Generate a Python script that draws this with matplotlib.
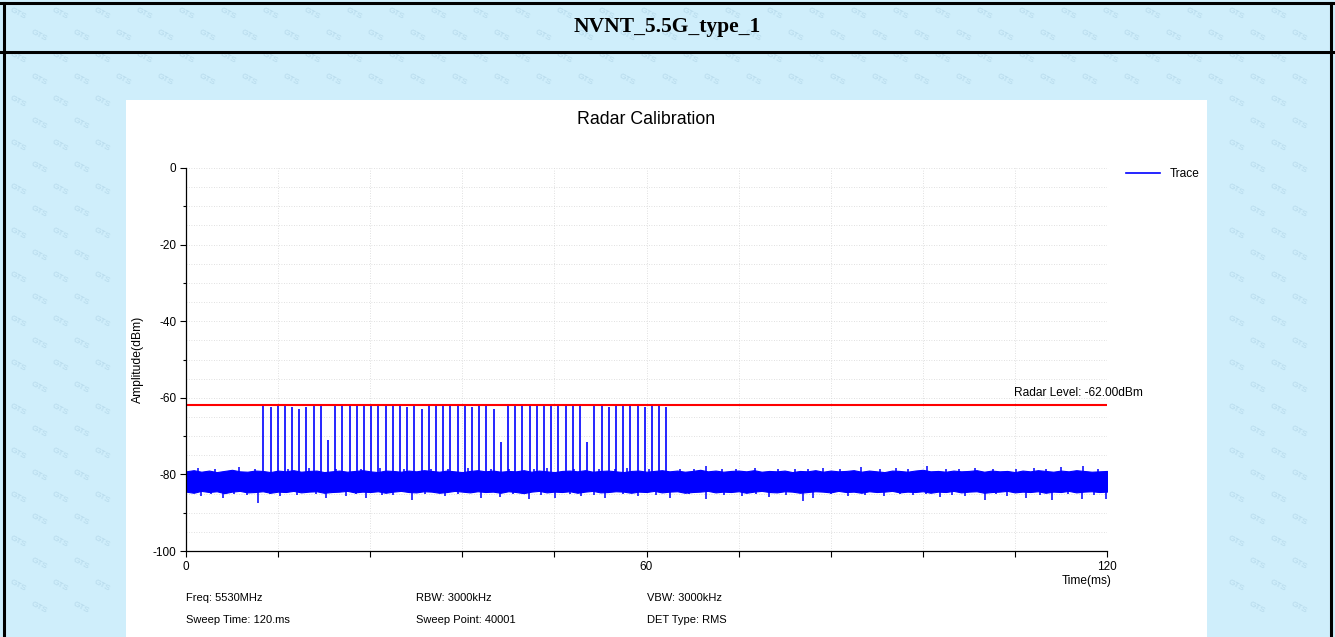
import matplotlib
matplotlib.use("Agg")
import matplotlib.pyplot as plt
from matplotlib.patches import Rectangle
from matplotlib.lines import Line2D

plt.rcParams["axes.unicode_minus"] = False

W, H = 1335, 637

# ---------------- data ----------------
noise_t = list(range(0, 121))
noise_upper = [
    -79.2, -78.9, -79.3, -79.0, -79.4, -79.1, -78.8, -79.2, -79.3, -79.0,
    -79.1, -79.4, -79.0, -79.2, -78.9, -79.3, -79.1, -79.0, -79.4, -79.2,
    -79.0, -79.3, -79.1, -78.9, -79.2, -79.4, -79.0, -79.1, -79.3, -79.0,
    -79.2, -78.9, -79.1, -79.3, -79.0, -79.2, -79.4, -79.1, -78.9, -79.2,
    -79.0, -79.3, -79.1, -79.2, -78.9, -79.3, -79.0, -79.2, -79.4, -79.1,
    -79.0, -79.2, -78.9, -79.3, -79.1, -79.0, -79.2, -79.4, -79.1, -79.0,
    -79.3, -79.1, -78.9, -79.2, -79.0, -79.3, -79.1, -78.8, -79.2, -79.0,
    -79.3, -79.1, -79.0, -79.2, -78.9, -79.3, -79.1, -79.2, -79.0, -79.4,
    -79.1, -79.2, -78.9, -79.3, -79.0, -79.2, -79.1, -78.9, -79.3, -79.0,
    -79.2, -79.4, -79.0, -79.1, -79.3, -79.0, -78.8, -79.2, -79.1, -79.3,
    -79.0, -79.2, -79.1, -78.9, -79.3, -79.0, -79.2, -79.1, -79.4, -79.0,
    -79.2, -78.9, -79.1, -79.3, -79.0, -79.2, -78.9, -79.1, -79.3, -79.2,
    -79.1,
]
noise_lower = [
    -84.5, -84.8, -84.3, -84.6, -84.4, -84.9, -84.5, -84.3, -84.7, -84.6,
    -84.4, -84.8, -84.5, -84.6, -84.3, -84.7, -84.5, -84.4, -84.8, -84.6,
    -84.5, -84.3, -84.7, -84.5, -84.6, -84.4, -84.8, -84.5, -84.3, -84.6,
    -84.7, -84.4, -84.5, -84.8, -84.6, -84.3, -84.5, -84.7, -84.4, -84.6,
    -84.5, -84.8, -84.4, -84.6, -84.9, -84.5, -84.3, -84.7, -84.5, -84.6,
    -84.4, -84.8, -84.5, -84.3, -84.7, -84.6, -84.4, -84.5, -84.8, -84.5,
    -84.6, -84.3, -84.7, -84.5, -84.4, -84.8, -84.6, -84.5, -84.3, -84.7,
    -84.5, -84.6, -84.4, -84.8, -84.5, -84.3, -84.6, -84.7, -84.4, -84.5,
    -84.8, -84.6, -84.4, -84.5, -84.7, -84.3, -84.6, -84.5, -84.8, -84.4,
    -84.6, -84.5, -84.3, -84.7, -84.5, -84.6, -84.4, -84.8, -84.5, -84.6,
    -84.3, -84.7, -84.5, -84.4, -84.8, -84.6, -84.5, -84.3, -84.7, -84.5,
    -84.6, -84.4, -84.8, -84.5, -84.6, -84.3, -84.7, -84.5, -84.4, -84.6,
    -84.5,
]
spike_down_t = [1.9, 3.3, 4.8, 6.2, 8.0, 9.4, 11.0, 12.2, 14.4, 16.9, 18.3,
                20.9, 22.2, 23.5, 25.6, 27.0, 29.5, 31.2, 33.8, 35.5, 38.4,
                40.9, 42.6, 44.7, 46.3, 48.1, 50.0, 51.5, 53.1, 54.6, 57.0,
                58.9, 61.2, 63.1, 65.5, 67.8, 70.1, 72.4, 74.3, 76.0, 78.2,
                80.4, 81.7, 84.0, 86.3, 88.5, 91.0, 93.0, 94.7, 96.4, 98.2,
                99.8, 101.5, 104.1, 105.6, 107.0, 109.5, 111.3, 112.8, 114.9,
                116.7, 118.3, 119.9]
spike_down_v = [-85.6, -85.2, -86.1, -85.1, -85.3, -87.5, -85.2, -85.6, -85.4,
                -85.1, -86.2, -85.6, -85.2, -86.1, -85.3, -85.5, -86.7, -85.2,
                -85.7, -85.1, -86.1, -85.8, -85.2, -86.4, -85.3, -86.2, -85.1,
                -85.6, -85.3, -86.1, -85.2, -85.7, -85.3, -86.1, -85.2, -86.4,
                -85.3, -85.6, -85.1, -85.8, -85.3, -87.0, -86.1, -85.2, -85.6,
                -85.3, -85.7, -85.2, -85.5, -85.1, -85.8, -85.3, -85.6, -86.7,
                -85.2, -85.6, -86.2, -85.3, -86.7, -85.2, -86.4, -85.3, -86.5]
spike_up_t = [1.5, 3.8, 6.9, 9.0, 13.3, 16.0, 19.6, 22.8, 25.3, 28.4, 31.9,
              34.2, 36.8, 39.7, 42.1, 45.3, 47.0, 50.6, 53.8, 55.9, 57.5,
              60.3, 64.4, 66.2, 67.8, 69.9, 71.6, 74.2, 77.1, 79.3, 81.0,
              83.0, 85.2, 88.0, 90.4, 92.5, 94.1, 96.5, 99.0, 100.7, 102.8,
              105.1, 108.2, 110.5, 112.1, 114.0, 116.9, 118.8]
spike_up_v = [-78.3, -78.7, -78.1, -78.6, -78.5, -78.4, -78.7, -78.5, -78.2,
              -78.6, -78.5, -78.7, -78.3, -78.6, -78.5, -78.7, -78.2, -78.6,
              -78.5, -78.7, -78.4, -78.6, -78.5, -78.6, -77.8, -78.6, -78.5,
              -78.3, -78.7, -78.5, -78.6, -78.2, -78.5, -78.0, -78.6, -78.4,
              -78.7, -77.7, -78.6, -78.5, -78.2, -78.6, -78.5, -78.3, -78.7,
              -78.1, -77.8, -78.5]

pulse_t = [10.07, 11.01, 11.95, 12.88, 13.82, 14.76, 15.70, 16.64, 17.57, 18.51,
           19.45, 20.39, 21.33, 22.26, 23.20, 24.14, 25.08, 26.02, 26.95, 27.89,
           28.83, 29.77, 30.71, 31.64, 32.58, 33.52, 34.46, 35.40, 36.33, 37.27,
           38.21, 39.15, 40.09, 41.02, 41.96, 42.90, 43.84, 44.78, 45.71, 46.65,
           47.59, 48.53, 49.47, 50.40, 51.34, 52.28, 53.22, 54.16, 55.09, 56.03,
           56.97, 57.91, 58.85, 59.78, 60.72, 61.66, 62.60]
pulse_v = [-62.0, -62.5, -62.0, -62.0, -62.5, -63.0, -62.5, -62.0, -62.0, -71.0,
           -62.0, -62.0, -62.0, -62.0, -62.0, -62.0, -62.0, -62.0, -62.0, -62.0,
           -62.5, -62.0, -63.0, -62.0, -62.0, -62.0, -62.0, -62.0, -62.0, -62.5,
           -62.0, -62.0, -63.0, -71.5, -62.0, -62.0, -62.0, -62.0, -62.0, -62.0,
           -62.0, -62.0, -62.0, -62.0, -62.0, -71.5, -62.0, -62.0, -62.5, -62.0,
           -62.0, -62.0, -62.0, -62.5, -62.0, -62.0, -62.5]

radar_level = -62.0
x_ticks = [0, 12, 24, 36, 48, 60, 72, 84, 96, 108, 120]
x_ticklabels = ["0", "", "", "", "", "60", "", "", "", "", "120"]
y_major = [0, -20, -40, -60, -80, -100]
y_minor = [-10, -30, -50, -70, -90]
y_grid = [-5, -10, -15, -20, -25, -30, -35, -40, -45, -50, -55, -60, -65,
          -70, -75, -80, -85, -90, -95, 0]

info_left = ["Freq: 5530MHz", "Sweep Time: 120.ms"]
info_mid = ["RBW: 3000kHz", "Sweep Point: 40001"]
info_right = ["VBW: 3000kHz", "DET Type: RMS"]

# ---------------- figure ----------------
fig = plt.figure(figsize=(W / 100, H / 100), dpi=100)
fig.patch.set_facecolor("#cfeefb")
SANS = ["Liberation Sans", "DejaVu Sans"]


def fx(x):
    return x / W


def fy(y):
    return 1 - y / H


# watermark (only where the background is visible, never cut at the edges)
for r, yy in enumerate(range(14, H - 8, 22)):
    off = (r % 2) * 21
    for xx in range(18 + off, W - 16, 42):
        if 110 < xx < 1222 and yy > 88:
            continue
        fig.text(fx(xx), fy(yy), "GTS", fontsize=6, color="#b3d7e9",
                 rotation=-28, family=SANS, ha="center", va="center",
                 zorder=0)

# table borders
bl = dict(color="black", lw=2.2, transform=fig.transFigure, zorder=5)
fig.add_artist(Line2D([0, 1], [fy(3), fy(3)], **bl))
fig.add_artist(Line2D([0, 1], [fy(52), fy(52)], **bl))
fig.add_artist(Line2D([fx(4), fx(4)], [0, fy(3)], **bl))
fig.add_artist(Line2D([fx(1331), fx(1331)], [0, fy(3)], **bl))
fig.text(fx(667), fy(27), "NVNT_5.5G_type_1", fontsize=15.5, fontweight="bold",
         family=["Liberation Serif", "DejaVu Serif"], ha="center",
         va="center", zorder=6)

# white panel
fig.add_artist(Rectangle((fx(126), 0), fx(1207) - fx(126), fy(100),
                         transform=fig.transFigure, facecolor="white",
                         edgecolor="none", zorder=2))

ax = fig.add_axes([fx(186), fy(551), fx(1107) - fx(186), fy(168) - fy(551)])
ax.set_zorder(3)
ax.patch.set_alpha(0)

BLUE = "#0000ff"
ax.fill_between(noise_t, noise_lower, noise_upper, color=BLUE, lw=0.8,
                edgecolor=BLUE)
ax.vlines(spike_down_t, -82.0, spike_down_v, color=BLUE, lw=1.1)
ax.vlines(spike_up_t, -82.0, spike_up_v, color=BLUE, lw=1.1)
ax.vlines(pulse_t, -81.0, pulse_v, color=BLUE, lw=1.2)
ax.plot([], [], color=BLUE, lw=1.2, label="Trace")
ax.axhline(radar_level, color="#ff0000", lw=1.5)
ax.text(107.9, -58.8, "Radar Level: -62.00dBm", fontsize=8.6, family=SANS,
        ha="left", va="center", clip_on=False)

ax.set_xlim(0, 120)
ax.set_ylim(-100, 0)
ax.set_xticks(x_ticks)
ax.set_xticklabels(x_ticklabels)
ax.set_yticks(y_major)
ax.set_yticks(y_minor, minor=True)
ax.tick_params(axis="both", which="both", direction="out", length=4,
               width=0.8, labelsize=8.5, pad=3)
ax.tick_params(axis="y", which="minor", length=2.5)
for lab in ax.get_xticklabels() + ax.get_yticklabels():
    lab.set_family(SANS)

for v in y_grid:
    ax.axhline(v, color="#d6d6d6", lw=0.6, ls=(0, (1, 2)), zorder=0)
for v in x_ticks:
    ax.axvline(v, color="#d6d6d6", lw=0.6, ls=(0, (1, 2)), zorder=0)

for s in ["top", "right"]:
    ax.spines[s].set_visible(False)
ax.spines["left"].set_linewidth(0.9)
ax.spines["bottom"].set_linewidth(0.9)

ax.set_ylabel("Amplitude(dBm)", fontsize=8.7, family=SANS, labelpad=6)
fig.text(fx(1087), fy(581), "Time(ms)", fontsize=8.6, family=SANS,
         ha="center", va="center", zorder=6)
fig.text(fx(646), fy(119), "Radar Calibration", fontsize=12.8, family=SANS,
         ha="center", va="center", zorder=6)

leg = ax.legend(loc="center left", bbox_to_anchor=(fx(1126), fy(174)),
                bbox_transform=fig.transFigure, frameon=False, fontsize=8.6,
                handlelength=2.85, handletextpad=0.8, borderaxespad=0,
                borderpad=0)
for t in leg.get_texts():
    t.set_family(SANS)

for i, (a, b, c) in enumerate(zip(info_left, info_mid, info_right)):
    y = 598 + i * 22
    for x, s in ((186, a), (416, b), (647, c)):
        fig.text(fx(x), fy(y), s, fontsize=8, family=SANS, ha="left",
                 va="center", zorder=6)

fig.savefig("out.png", dpi=100, facecolor=fig.get_facecolor())
